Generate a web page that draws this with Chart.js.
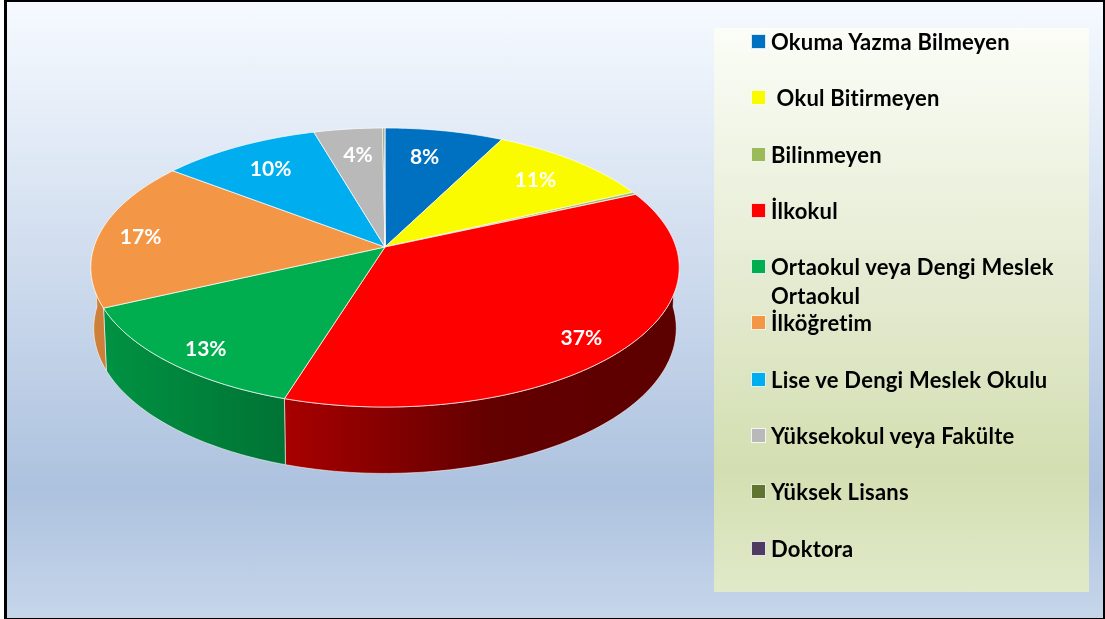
<!DOCTYPE html>
<html lang="tr">
<head>
<meta charset="utf-8">
<title>Eğitim durumu</title>
<script src="https://cdn.jsdelivr.net/npm/chart.js@4"></script>
<style>
  html, body { margin: 0; padding: 0; background: #fff; overflow: hidden; }
  #page { position: relative; width: 1105px; height: 619px; font-family: Lato, "Open Sans", sans-serif; }
  #frame {
    position: absolute; left: 4px; top: 0; width: 1096px; height: 616px;
    border: solid #000; border-width: 2px 3px 1px 3px;
    background: linear-gradient(180deg, #f6faff 0%, #adc2df 79%, #c6d6ea 100%);
  }
  #chart { position: absolute; left: 0; top: 0; }
  #legend {
    position: absolute; left: 714px; top: 28px; width: 375px; height: 564px; margin: 0; padding: 0;
    list-style: none; box-sizing: border-box;
    background: linear-gradient(180deg, #fbfdf7 0%, #e2e9cd 50%, #d3dfb1 78%, #e0e9c9 100%);
  }
  #legend li { position: relative; height: 56.3px; color: #000; font-weight: 700; font-size: 22px; letter-spacing: .22px; line-height: 29px; }
  #legend .swatch { position: absolute; left: 37px; top: 6px; width: 13px; height: 13px; border: 1px solid rgba(255,255,255,.85); }
  #legend .name { position: absolute; left: 57px; top: -1px; width: 310px; white-space: pre-wrap; }
</style>
</head>
<body>
<div id="page">
  <div id="frame"></div>
  <canvas id="chart" width="1105" height="619"></canvas>
  <ul id="legend"></ul>
</div>
<script>
  const categories = [
    'Okuma Yazma Bilmeyen', ' Okul Bitirmeyen', 'Bilinmeyen', 'İlkokul',
    'Ortaokul veya Dengi Meslek Ortaokul', 'İlköğretim', 'Lise ve Dengi Meslek Okulu',
    'Yüksekokul veya Fakülte', 'Yüksek Lisans', 'Doktora'
  ];
  const shares = [7.5, 10.5, 0.3, 36.5, 13.3, 17.3, 10.1, 4.35, 0.1, 0.05];
  const colors = ['#0070c0', '#fbfb00', '#9bbb59', '#ff0000', '#00ae4f', '#f39645', '#00aeef', '#b9b9b9', '#5f7530', '#4f3b62'];
  // pixel nudges for the percent labels
  const labelNudge = [[-7, 1], [3, 0], [0, 0], [-8, 6], [3, 5], [1, 3], [0, 1], [2, 1], [0, 0], [0, 0]];

  // Fake 3D view: the circle goes through a small perspective map
  const view = { cx: 385, cy: 247, rx: 291, ry: 136.5, tilt: -0.147, depth: 60, bottomX: 0.99, bottomY: 1.04 };
  const wallShade = [[94, 0.85], [285, 0.66], [400, 0.5], [490, 0.39], [680, 0.36]];

  function project(angle, bottom) {
    const u = Math.cos(angle), v = Math.sin(angle);
    const w = 1 + view.tilt * v;
    if (bottom) {
      return [view.cx + view.bottomX * view.rx * u / w, view.cy + view.depth + view.bottomY * view.ry * v / w];
    }
    return [view.cx + view.rx * u / w, view.cy + view.ry * v / w];
  }

  function shaded(hex, f) {
    const n = parseInt(hex.slice(1), 16);
    return `rgb(${Math.round((n >> 16) * f)},${Math.round(((n >> 8) & 255) * f)},${Math.round((n & 255) * f)})`;
  }

  function arcPoints(a0, a1, bottom) {
    const steps = Math.max(2, Math.ceil((a1 - a0) * 60));
    const pts = [];
    for (let i = 0; i <= steps; i++) pts.push(project(a0 + (a1 - a0) * i / steps, bottom));
    return pts;
  }

  const tiltedPie = {
    id: 'tiltedPie',
    // the library works out the angles, we only draw them differently
    beforeDatasetDraw() { return false; },
    afterDatasetsDraw(chart) {
      const ctx = chart.ctx;
      const arcs = chart.getDatasetMeta(0).data;
      ctx.save();
      ctx.lineJoin = 'round';

      // side wall
      arcs.forEach((arc, i) => {
        const a0 = Math.max(arc.startAngle, 0), a1 = Math.min(arc.endAngle, Math.PI);
        if (a1 <= a0) return;
        const top = arcPoints(a0, a1, false), low = arcPoints(a0, a1, true).reverse();
        const grad = ctx.createLinearGradient(94, 0, 680, 0);
        wallShade.forEach(s => grad.addColorStop((s[0] - 94) / 586, shaded(colors[i], s[1])));
        ctx.beginPath();
        top.concat(low).forEach((p, k) => k ? ctx.lineTo(p[0], p[1]) : ctx.moveTo(p[0], p[1]));
        ctx.closePath();
        ctx.fillStyle = grad;
        ctx.fill();
        ctx.strokeStyle = 'rgba(255,255,255,.55)';
        ctx.lineWidth = 1;
        ctx.stroke();
      });

      // top face
      arcs.forEach((arc, i) => {
        ctx.beginPath();
        ctx.moveTo(view.cx, view.cy);
        arcPoints(arc.startAngle, arc.endAngle, false).forEach(p => ctx.lineTo(p[0], p[1]));
        ctx.closePath();
        ctx.fillStyle = colors[i];
        ctx.fill();
        ctx.strokeStyle = 'rgba(255,255,255,.7)';
        ctx.lineWidth = 1;
        ctx.stroke();
      });

      // percent labels, the tiny slices have none
      ctx.fillStyle = '#fff';
      ctx.font = '700 21px Lato, "Open Sans", sans-serif';
      ctx.textAlign = 'center';
      ctx.textBaseline = 'middle';
      arcs.forEach((arc, i) => {
        if (shares[i] < 1) return;
        const mid = (arc.startAngle + arc.endAngle) / 2;
        const r = Math.sin(mid) < -0.3 ? 0.76 : 0.86;
        const u = r * Math.cos(mid), v = r * Math.sin(mid);
        const w = 1 + view.tilt * v;
        ctx.fillText(Math.round(shares[i]) + '%',
          view.cx + view.rx * u / w + labelNudge[i][0],
          view.cy + view.ry * v / w + labelNudge[i][1]);
      });
      ctx.restore();
    }
  };

  new Chart(document.getElementById('chart').getContext('2d'), {
    type: 'pie',
    data: {
      labels: categories,
      datasets: [{ data: shares, backgroundColor: colors, borderWidth: 0 }]
    },
    options: {
      responsive: false,
      animation: false,
      events: [],
      plugins: { legend: { display: false }, tooltip: { enabled: false } }
    },
    plugins: [tiltedPie]
  });

  // Legend
  const legend = document.getElementById('legend');
  categories.forEach((name, i) => {
    const li = document.createElement('li');
    const swatch = document.createElement('span');
    swatch.className = 'swatch';
    swatch.style.background = colors[i];
    const label = document.createElement('span');
    label.className = 'name';
    label.textContent = name;
    li.append(swatch, label);
    legend.append(li);
  });
</script>
</body>
</html>
